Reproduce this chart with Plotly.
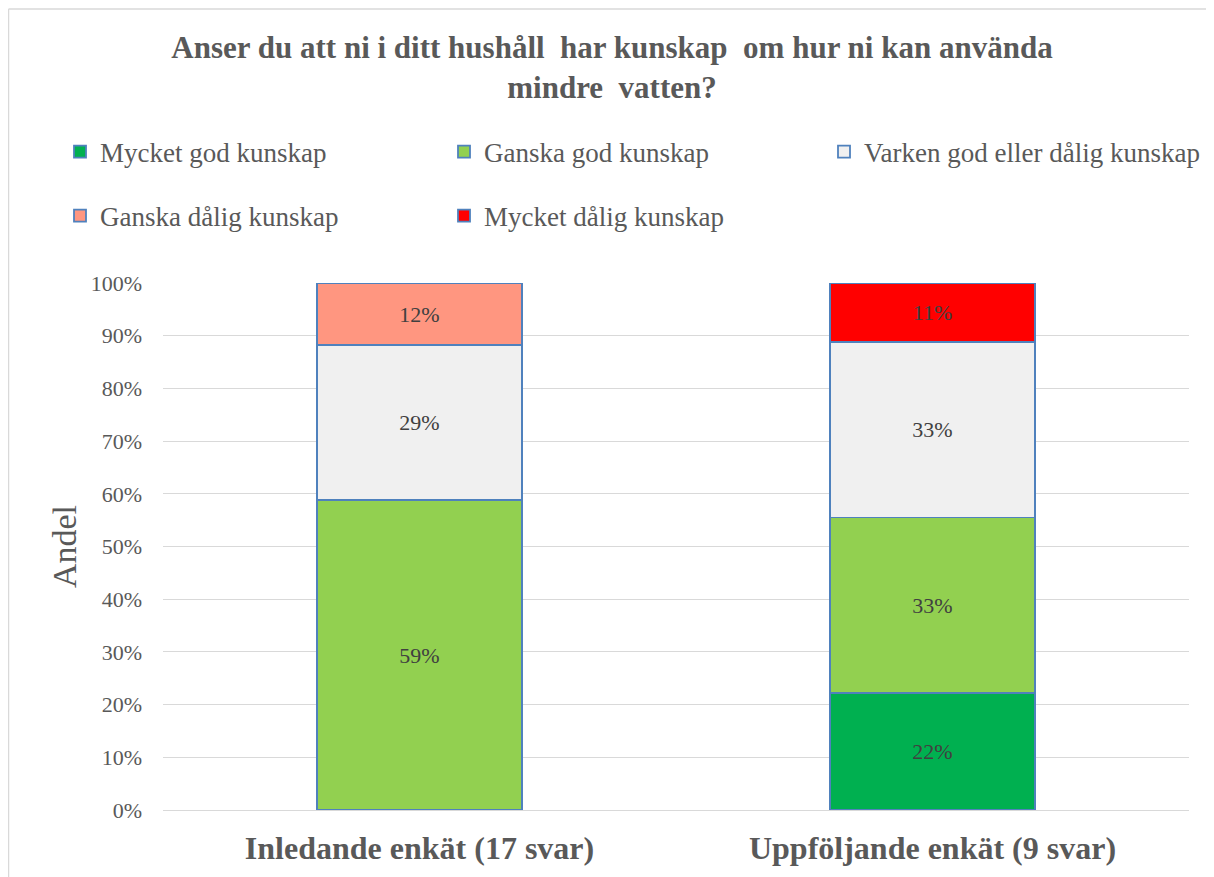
import plotly.graph_objects as go

categories = ["Inledande enkät (17 svar)", "Uppföljande enkät (9 svar)"]
series_names = ["Mycket god kunskap", "Ganska god kunskap", "Varken god eller dålig kunskap",
                "Ganska dålig kunskap", "Mycket dålig kunskap"]
mycket_god = [0, 22.2]
ganska_god = [58.8, 33.3]
varken = [29.4, 33.3]
ganska_dalig = [11.8, 0]
mycket_dalig = [0, 11.1]
series_values = [mycket_god, ganska_god, varken, ganska_dalig, mycket_dalig]
colors = ["#00B050", "#92D050", "#F0F0F0", "#FF9680", "#FF0000"]
legend_ids = ["legend", "legend", "legend3", "legend2", "legend2"]
y_ticks = [0, 10, 20, 30, 40, 50, 60, 70, 80, 90, 100]
y_tick_labels = [f"{t}%" for t in y_ticks]

# page has an 8px body margin, so the figure is 16px smaller than the window
W, H = 1206, 869
ML, MR, MT, MB = 155, 25, 275, 67
FONT = "Liberation Serif"
GREY = "#595959"

fig = go.Figure()
for name, vals, col, lg in zip(series_names, series_values, colors, legend_ids):
    fig.add_trace(go.Bar(
        x=categories,
        y=[v if v > 0 else None for v in vals],
        name=name,
        legend=lg,
        marker=dict(color=col, line=dict(color="#4F81BD", width=1.8)),
        text=[f"{round(v)}%" if v > 0 else "" for v in vals],
        textposition="inside",
        insidetextanchor="middle",
        textangle=0,
        textfont=dict(family=FONT, size=22, color="#404040"),
        hoverinfo="skip",
    ))

pw = W - ML - MR
ph = H - MT - MB
fx = lambda px: (px - ML) / pw
fy = lambda py: (H - MB - py) / ph


def leg(xpx, ypx):
    return dict(
        orientation="h", xref="container", yref="container",
        x=xpx / W, xanchor="left", y=1 - ypx / H, yanchor="middle",
        entrywidth=339, entrywidthmode="pixels",
        font=dict(family=FONT, size=27, color=GREY),
        bgcolor="rgba(0,0,0,0)", traceorder="normal",
    )


fig.update_layout(
    width=W, height=H,
    margin=dict(l=ML, r=MR, t=MT, b=MB, autoexpand=False),
    paper_bgcolor="white", plot_bgcolor="white",
    barmode="stack", bargap=0.6,
    font=dict(family=FONT, color=GREY),
    title=dict(
        text="<b>Anser du att ni i ditt hushåll\u00a0 har kunskap\u00a0 om hur ni kan använda<br>mindre\u00a0 vatten?</b>",
        x=604 / W, xanchor="center", xref="container",
        y=1 - 50 / H, yanchor="top", yref="container",
        font=dict(family=FONT, size=31, color=GREY),
    ),
    legend=leg(52, 144),
    legend3=leg(816, 144),
    legend2=leg(52, 208),
    xaxis=dict(
        showgrid=False, showline=False, zeroline=False,
        tickfont=dict(family=FONT, size=32, color=GREY),
        tickprefix="<b>", ticksuffix="</b>",
        ticklabelstandoff=16,
    ),
    yaxis=dict(
        range=[0, 100], tickvals=y_ticks, ticktext=y_tick_labels,
        showgrid=True, gridcolor="#D9D9D9", gridwidth=1.3,
        zeroline=True, zerolinecolor="#D9D9D9", zerolinewidth=1.3,
        showline=False, ticks="", ticklabelstandoff=20,
        tickfont=dict(family=FONT, size=22, color=GREY),
        title=dict(text="Andel", font=dict(family=FONT, size=34, color=GREY), standoff=3),
    ),
    shapes=[
        dict(type="line", xref="paper", yref="paper", x0=fx(0.5), x1=fx(0.5), y0=fy(1), y1=fy(H + 5),
             line=dict(color="#D9D9D9", width=1.5), layer="below"),
        dict(type="line", xref="paper", yref="paper", x0=fx(0.5), x1=fx(W + 5), y0=fy(1), y1=fy(1),
             line=dict(color="#D9D9D9", width=1.5), layer="below"),
    ],
    showlegend=True,
)

fig.write_html("out.html")
